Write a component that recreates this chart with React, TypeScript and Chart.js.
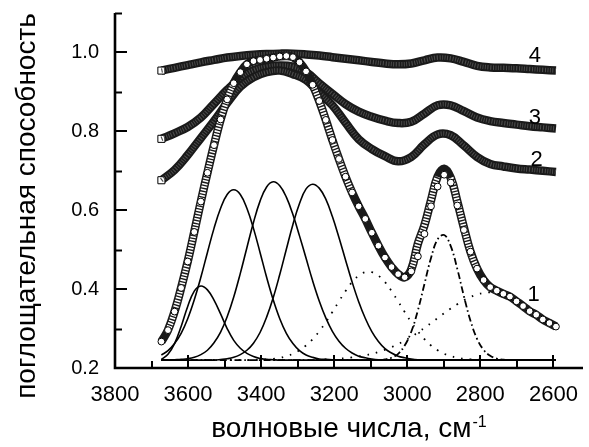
import React, { useEffect, useRef } from 'react';
import { Chart, registerables } from 'chart.js';

Chart.register(...registerables);

// wavenumber grid (cm^-1) for the fitted / experimental curve 1 and the components
const wavenumbers = [
  3673, 3655, 3637, 3619, 3601, 3583, 3565, 3547, 3529, 3511,
  3493, 3475, 3457, 3439, 3421, 3403, 3385, 3367, 3349, 3331,
  3313, 3295, 3277, 3259, 3241, 3223, 3205, 3187, 3169, 3151,
  3133, 3115, 3097, 3079, 3061, 3043, 3025, 3007, 2989, 2971,
  2953, 2935, 2917, 2899, 2881, 2863, 2845, 2827, 2809, 2791,
  2773, 2755, 2737, 2719, 2701, 2683, 2665, 2647, 2629, 2611, 2593,
];

// coarser grid for curves 2, 3, 4
const wavenumbersCoarse = [
  3673, 3637, 3601, 3565, 3529, 3493, 3457, 3421, 3385, 3349,
  3313, 3277, 3241, 3205, 3169, 3133, 3097, 3061, 3025, 2989,
  2953, 2917, 2881, 2845, 2809, 2773, 2737, 2701, 2665, 2629, 2593,
];

const curve1Fit = [
  0.267, 0.296, 0.343, 0.403, 0.470, 0.545, 0.622, 0.695, 0.765, 0.830,
  0.881, 0.922, 0.950, 0.970, 0.978, 0.981, 0.984, 0.987, 0.990, 0.991,
  0.988, 0.975, 0.952, 0.918, 0.877, 0.829, 0.778, 0.730, 0.685, 0.645,
  0.610, 0.578, 0.543, 0.510, 0.480, 0.456, 0.438, 0.430, 0.445, 0.483,
  0.540, 0.610, 0.660, 0.690, 0.670, 0.612, 0.550, 0.495, 0.452, 0.423,
  0.405, 0.396, 0.388, 0.381, 0.369, 0.357, 0.344, 0.335, 0.323, 0.314, 0.305,
];

const curve1Exp = [
  0.267, 0.296, 0.343, 0.403, 0.470, 0.545, 0.622, 0.695, 0.765, 0.830,
  0.881, 0.922, 0.950, 0.970, 0.978, 0.981, 0.984, 0.987, 0.990, 0.991,
  0.988, 0.975, 0.952, 0.918, 0.877, 0.829, 0.778, 0.730, 0.685, 0.645,
  0.610, 0.578, 0.543, 0.510, 0.480, 0.456, 0.438, 0.430, 0.450, 0.515,
  0.562, 0.625, 0.685, 0.705, 0.682, 0.622, 0.556, 0.495, 0.452, 0.423,
  0.405, 0.396, 0.388, 0.381, 0.369, 0.357, 0.344, 0.335, 0.323, 0.314, 0.305,
];

const curve2 = [
  0.676, 0.702, 0.740, 0.783, 0.826, 0.872, 0.913, 0.937, 0.950, 0.954,
  0.945, 0.930, 0.898, 0.866, 0.822, 0.780, 0.755, 0.737, 0.724, 0.735,
  0.767, 0.792, 0.790, 0.764, 0.735, 0.717, 0.711, 0.706, 0.703, 0.700, 0.697,
];

const curve3 = [
  0.781, 0.795, 0.811, 0.835, 0.870, 0.905, 0.935, 0.955, 0.964, 0.967,
  0.964, 0.950, 0.922, 0.895, 0.869, 0.850, 0.837, 0.827, 0.821, 0.824,
  0.845, 0.866, 0.866, 0.851, 0.835, 0.826, 0.821, 0.817, 0.813, 0.810, 0.807,
];

const curve4 = [
  0.954, 0.961, 0.968, 0.975, 0.981, 0.987, 0.991, 0.994, 0.996, 0.997,
  0.997, 0.995, 0.992, 0.988, 0.984, 0.980, 0.976, 0.972, 0.970, 0.972,
  0.980, 0.987, 0.985, 0.976, 0.966, 0.962, 0.961, 0.960, 0.958, 0.956, 0.954,
];

// band components (solid)
const bandA = [
  0.222, 0.235, 0.262, 0.305, 0.356, 0.395, 0.408, 0.398, 0.372, 0.337,
  0.300, 0.270, 0.250, 0.237, 0.229, 0.224, 0.222, 0.221, 0.220, 0.220,
  0.220, 0.220, 0.220, 0.220, 0.220, 0.220, 0.220, 0.220, 0.220, 0.220,
  0.220, 0.220, 0.220, 0.220, 0.220, 0.220, 0.220, 0.220, 0.220, 0.220,
  0.220, 0.220, 0.220, 0.220, 0.220, 0.220, 0.220, 0.220, 0.220, 0.220,
  0.220, 0.220, 0.220, 0.220, 0.220, 0.220, 0.220, 0.220, 0.220, 0.220, 0.220,
];
const bandB = [
  0.233, 0.244, 0.262, 0.288, 0.325, 0.373, 0.430, 0.493, 0.554, 0.605,
  0.640, 0.652, 0.640, 0.605, 0.554, 0.493, 0.430, 0.373, 0.325, 0.288,
  0.262, 0.244, 0.233, 0.227, 0.223, 0.222, 0.221, 0.220, 0.220, 0.220,
  0.220, 0.220, 0.220, 0.220, 0.220, 0.220, 0.220, 0.220, 0.220, 0.220,
  0.220, 0.220, 0.220, 0.220, 0.220, 0.220, 0.220, 0.220, 0.220, 0.220,
  0.220, 0.220, 0.220, 0.220, 0.220, 0.220, 0.220, 0.220, 0.220, 0.220, 0.220,
];
const bandC = [
  0.220, 0.220, 0.221, 0.222, 0.2235, 0.227, 0.234, 0.245, 0.264, 0.291,
  0.330, 0.380, 0.440, 0.505, 0.569, 0.623, 0.659, 0.672, 0.662, 0.633,
  0.589, 0.535, 0.478, 0.421, 0.370, 0.327, 0.293, 0.268, 0.250, 0.238,
  0.230, 0.226, 0.223, 0.221, 0.220, 0.220, 0.220, 0.220, 0.220, 0.220,
  0.220, 0.220, 0.220, 0.220, 0.220, 0.220, 0.220, 0.220, 0.220, 0.220,
  0.220, 0.220, 0.220, 0.220, 0.220, 0.220, 0.220, 0.220, 0.220, 0.220, 0.220,
];
const bandD = [
  0.220, 0.220, 0.220, 0.220, 0.220, 0.220, 0.220, 0.220, 0.220, 0.2215,
  0.2234, 0.227, 0.234, 0.245, 0.263, 0.290, 0.329, 0.378, 0.437, 0.501,
  0.564, 0.617, 0.654, 0.666, 0.656, 0.628, 0.584, 0.531, 0.474, 0.418,
  0.368, 0.326, 0.292, 0.267, 0.249, 0.238, 0.230, 0.226, 0.223, 0.221,
  0.220, 0.220, 0.220, 0.220, 0.220, 0.220, 0.220, 0.220, 0.220, 0.220,
  0.220, 0.220, 0.220, 0.220, 0.220, 0.220, 0.220, 0.220, 0.220, 0.220, 0.220,
];
// dotted components
const bandE = [
  0.220, 0.220, 0.220, 0.220, 0.220, 0.220, 0.220, 0.220, 0.220, 0.220,
  0.220, 0.220, 0.220, 0.220, 0.2205, 0.221, 0.222, 0.223, 0.226, 0.230,
  0.236, 0.245, 0.257, 0.273, 0.293, 0.316, 0.342, 0.369, 0.395, 0.418,
  0.434, 0.443, 0.443, 0.434, 0.418, 0.395, 0.369, 0.342, 0.316, 0.293,
  0.273, 0.257, 0.245, 0.236, 0.230, 0.226, 0.223, 0.222, 0.221, 0.2205,
  0.220, 0.220, 0.220, 0.220, 0.220, 0.220, 0.220, 0.220, 0.220, 0.220, 0.220,
];
const bandF = [
  0.220, 0.220, 0.220, 0.220, 0.220, 0.220, 0.220, 0.220, 0.220, 0.220,
  0.220, 0.220, 0.220, 0.220, 0.220, 0.220, 0.220, 0.220, 0.220, 0.220,
  0.220, 0.220, 0.220, 0.2205, 0.221, 0.2218, 0.2226, 0.2236, 0.225, 0.2269,
  0.2291, 0.2322, 0.236, 0.2406, 0.2462, 0.2528, 0.2606, 0.2694, 0.2792, 0.290,
  0.3017, 0.3139, 0.3265, 0.3388, 0.3508, 0.3619, 0.3717, 0.380, 0.3863, 0.3903,
  0.392, 0.3911, 0.3879, 0.3824, 0.3748, 0.3653, 0.3547, 0.3428, 0.3306, 0.318, 0.3057,
];
// dash-dot component
const bandG = [
  0.220, 0.220, 0.220, 0.220, 0.220, 0.220, 0.220, 0.220, 0.220, 0.220,
  0.220, 0.220, 0.220, 0.220, 0.220, 0.220, 0.220, 0.220, 0.220, 0.220,
  0.220, 0.220, 0.220, 0.220, 0.220, 0.220, 0.220, 0.220, 0.220, 0.220,
  0.220, 0.220, 0.220, 0.220, 0.222, 0.226, 0.236, 0.257, 0.292, 0.346,
  0.413, 0.479, 0.526, 0.537, 0.509, 0.451, 0.382, 0.320, 0.274, 0.246,
  0.231, 0.224, 0.221, 0.220, 0.220, 0.220, 0.220, 0.220, 0.220, 0.220, 0.220,
];

const xTickMajor = [3800, 3600, 3400, 3200, 3000, 2800, 2600];
const xTickLabels = ['3800', '3600', '3400', '3200', '3000', '2800', '2600'];
const xTickMinor = [3700, 3500, 3300, 3100, 2900, 2700];
const yTickMajor = [0.2, 0.4, 0.6, 0.8, 1.0];
const yTickLabels = ['0.2', '0.4', '0.6', '0.8', '1.0'];
const yTickMinor = [0.3, 0.5, 0.7, 0.9, 1.1];

const curveLabels = ['1', '2', '3', '4'];
const curveLabelX = [2654, 2646, 2651, 2651];
const curveLabelY = [0.385, 0.727, 0.835, 0.992];

const xTitle = 'волновые числа, см';
const xTitleSup = '-1';
const yTitle = 'поглощательная способность';

const FONT = '"Liberation Sans", Arial, Helvetica, sans-serif';

const pts = (xs: number[], ys: number[]) => xs.map((x, i) => ({ x, y: ys[i] }));

const axesPlugin = {
  id: 'customAxes',
  afterDraw(chart: any) {
    const { ctx, chartArea } = chart;
    const xs = chart.scales.x;
    const ys = chart.scales.y;
    const L = chartArea.left;
    const B = chartArea.bottom;
    ctx.save();
    ctx.strokeStyle = '#000';
    ctx.fillStyle = '#000';
    ctx.lineCap = 'butt';
    ctx.lineWidth = 2.6;
    ctx.beginPath();
    ctx.moveTo(L, chartArea.top);
    ctx.lineTo(L, B);
    ctx.lineTo(chartArea.right, B);
    ctx.stroke();

    ctx.lineWidth = 2;
    const seg = (x1: number, y1: number, x2: number, y2: number) => {
      ctx.beginPath();
      ctx.moveTo(x1, y1);
      ctx.lineTo(x2, y2);
      ctx.stroke();
    };
    yTickMajor.forEach((v) => {
      const py = Math.round(ys.getPixelForValue(v));
      seg(L, py, L + 12, py);
    });
    yTickMinor.forEach((v) => {
      const py = Math.round(ys.getPixelForValue(v)) + 0.5;
      seg(L, py, L + 7, py);
    });
    xTickMajor.forEach((v) => {
      const px = Math.round(xs.getPixelForValue(v));
      seg(px, B, px, B - 13);
    });
    xTickMinor.forEach((v) => {
      const px = Math.round(xs.getPixelForValue(v));
      seg(px, B, px, B - 7);
    });

    // tick labels
    ctx.font = `20px ${FONT}`;
    ctx.textAlign = 'right';
    ctx.textBaseline = 'middle';
    yTickMajor.forEach((v, i) => {
      ctx.fillText(yTickLabels[i], 99, ys.getPixelForValue(v));
    });
    ctx.font = `22px ${FONT}`;
    ctx.textAlign = 'center';
    ctx.textBaseline = 'alphabetic';
    xTickMajor.forEach((v, i) => {
      ctx.fillText(xTickLabels[i], xs.getPixelForValue(v), 401);
    });

    // curve labels
    ctx.font = `22px ${FONT}`;
    ctx.textAlign = 'center';
    ctx.textBaseline = 'middle';
    curveLabels.forEach((t, i) => {
      ctx.fillText(t, xs.getPixelForValue(curveLabelX[i]), ys.getPixelForValue(curveLabelY[i]));
    });

    // x title with superscript
    ctx.font = `28px ${FONT}`;
    const w1 = ctx.measureText(xTitle).width;
    ctx.font = `16px ${FONT}`;
    const w2 = ctx.measureText(xTitleSup).width;
    const cx = (chartArea.left + chartArea.right) / 2;
    const start = cx - (w1 + w2 + 1) / 2;
    ctx.textAlign = 'left';
    ctx.textBaseline = 'alphabetic';
    ctx.font = `28px ${FONT}`;
    ctx.fillText(xTitle, start, 437);
    ctx.font = `16px ${FONT}`;
    ctx.fillText(xTitleSup, start + w1 + 1, 427);

    // y title
    ctx.save();
    ctx.translate(35, 206);
    ctx.rotate(-Math.PI / 2);
    ctx.font = `28px ${FONT}`;
    ctx.textAlign = 'center';
    ctx.textBaseline = 'alphabetic';
    ctx.fillText(yTitle, 0, 0);
    ctx.restore();

    ctx.restore();
  },
};

const bandStyle = (data: any[], order: number) => ({
  data,
  borderColor: '#1a1a1a',
  borderWidth: 8.5,
  tension: 0.4,
  order,
  pointStyle: 'rect',
  pointRadius: (c: any) => (c.dataIndex === 0 ? 5 : 0),
  pointBackgroundColor: '#ffffff',
  pointBorderColor: '#000000',
  pointBorderWidth: 1,
});

const texture = (data: any[], order: number) => ({
  data,
  borderColor: '#4d4d4d',
  borderWidth: 4.5,
  borderDash: [1, 1.6],
  tension: 0.4,
  order,
  pointRadius: 0,
});

const comp = (data: any[], order: number, dash: number[] = []) => ({
  data,
  borderColor: '#000',
  borderWidth: dash.length ? 1.8 : 1.6,
  borderDash: dash,
  tension: 0.4,
  order,
  pointRadius: 0,
});

export default function App() {
  const ref = useRef<HTMLCanvasElement | null>(null);
  useEffect(() => {
    if (!ref.current) return;
    const exp1 = pts(wavenumbers, curve1Exp);
    const chart = new Chart(ref.current, {
      type: 'line',
      data: {
        datasets: [
          {
            data: pts(wavenumbers, curve1Fit),
            showLine: false,
            pointStyle: 'circle',
            pointRadius: 3.4,
            pointBackgroundColor: '#ffffff',
            pointBorderColor: '#000000',
            pointBorderWidth: 1,
            order: 0,
          } as any,
          {
            data: exp1,
            borderWidth: 5.5,
            borderDash: [1.6, 1.4],
            tension: 0.4,
            pointRadius: 0,
            order: 1,
            borderColor: 'rgba(0,0,0,0)',
            segment: {
              borderColor: (c: any) => {
                const dx = Math.abs(c.p1.x - c.p0.x);
                const dy = Math.abs(c.p1.y - c.p0.y);
                return dy > 2.2 * dx ? '#ffffff' : 'rgba(0,0,0,0)';
              },
            },
          } as any,
          { ...bandStyle(exp1, 2), pointRadius: 0 } as any,
          texture(pts(wavenumbersCoarse, curve2), 3) as any,
          bandStyle(pts(wavenumbersCoarse, curve2), 4) as any,
          texture(pts(wavenumbersCoarse, curve3), 5) as any,
          bandStyle(pts(wavenumbersCoarse, curve3), 6) as any,
          texture(pts(wavenumbersCoarse, curve4), 7) as any,
          bandStyle(pts(wavenumbersCoarse, curve4), 8) as any,
          comp(pts(wavenumbers, bandA), 9) as any,
          comp(pts(wavenumbers, bandB), 10) as any,
          comp(pts(wavenumbers, bandC), 11) as any,
          comp(pts(wavenumbers, bandD), 12) as any,
          comp(pts(wavenumbers, bandE), 13, [1.6, 7]) as any,
          comp(pts(wavenumbers, bandF), 14, [1.6, 7]) as any,
          comp(pts(wavenumbers, bandG), 15, [7, 3, 1.6, 3]) as any,
        ],
      },
      options: {
        animation: false,
        responsive: false,
        devicePixelRatio: 1,
        events: [],
        layout: { padding: { left: 115, right: 0, top: 13, bottom: 79 } },
        plugins: { legend: { display: false }, tooltip: { enabled: false } },
        scales: {
          x: { type: 'linear', reverse: true, min: 2519, max: 3800, display: false },
          y: { type: 'linear', min: 0.2, max: 1.1, display: false },
        },
      },
      plugins: [axesPlugin],
    });
    return () => chart.destroy();
  }, []);
  return (
    <div style={{ position: 'fixed', left: 0, top: 0, width: 589, height: 447, background: '#fff' }}>
      <canvas ref={ref} width={589} height={447} style={{ display: 'block' }} />
    </div>
  );
}
